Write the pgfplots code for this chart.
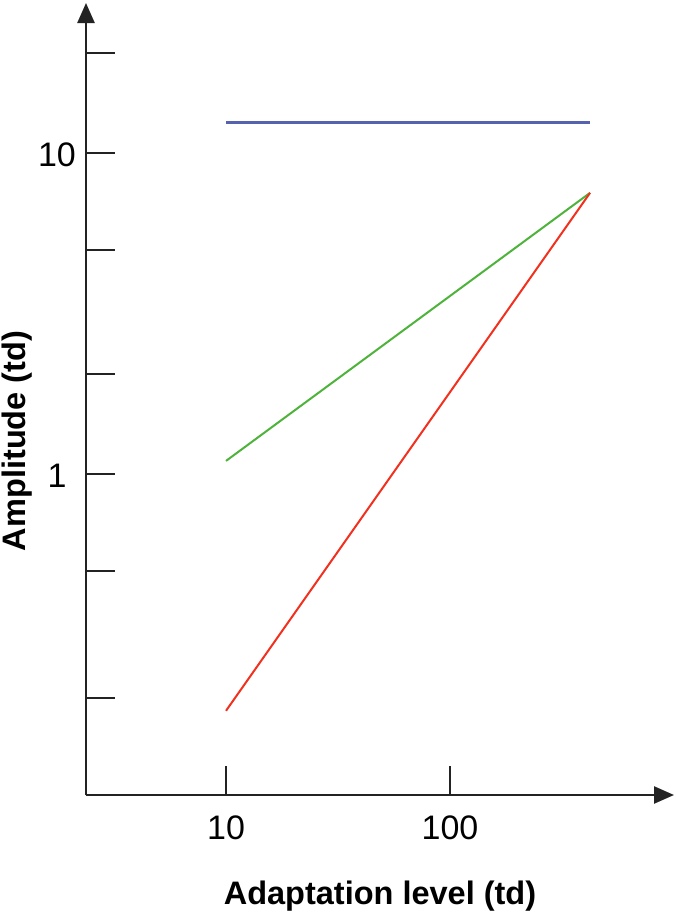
\documentclass[border=0pt]{standalone}
\usepackage{fontspec}
\setmainfont{Liberation Sans}
\usepackage{pgfplots}
\pgfplotsset{compat=1.18}
\usetikzlibrary{arrows.meta}
\definecolor{axcol}{HTML}{232323}
\definecolor{bluel}{HTML}{5462B0}
\definecolor{greenl}{HTML}{4DB33A}
\definecolor{redl}{HTML}{F2301E}
\begin{document}
\begin{tikzpicture}
\useasboundingbox (-86pt,-121pt) rectangle (590pt,795pt);
\begin{axis}[
  scale only axis,
  width=588pt, height=792pt,
  xmode=log, ymode=log,
  xmin=2.371, xmax=1000,
  ymin=0.1, ymax=29.3,
  axis lines=left,
  axis line style={line width=2.5pt, color=axcol, -{Triangle[length=20pt,width=17pt]}},
  tick align=inside,
  major tick length=29pt,
  tick style={line width=2pt, color=axcol},
  xminorticks=false, yminorticks=false,
  xtick={10,100}, xticklabels={10,100},
  ytick={0.2,0.5,1,2.05,5,10,20.5},
  yticklabels={{},{},1,{},{},10,{}},
  tick label style={font=\fontsize{34}{40}\selectfont, inner sep=0pt},
  xticklabel style={anchor=center, yshift=-33pt},
  yticklabel style={anchor=center, xshift=-29pt, yshift=-2pt},
  every axis x label/.style={at={([yshift=-109pt]rel axis cs:0.5,0)}, anchor=base, font=\bfseries\fontsize{32.5}{38}\selectfont, inner sep=0pt},
  every axis y label/.style={at={([xshift=-60pt]rel axis cs:0,0.447)}, rotate=90, anchor=base, font=\bfseries\fontsize{32.5}{38}\selectfont, inner sep=0pt},
  xlabel={Adaptation level (td)},
  ylabel={Amplitude (td)},
  clip=false,
]
\addplot[bluel, line width=3pt] coordinates {(10,12.4) (422,12.4)};
\addplot[greenl, line width=2pt] coordinates {(10,1.098) (422,7.51)};
\addplot[redl, line width=2pt] coordinates {(10,0.183) (422,7.51)};
\end{axis}
\end{tikzpicture}
\end{document}
